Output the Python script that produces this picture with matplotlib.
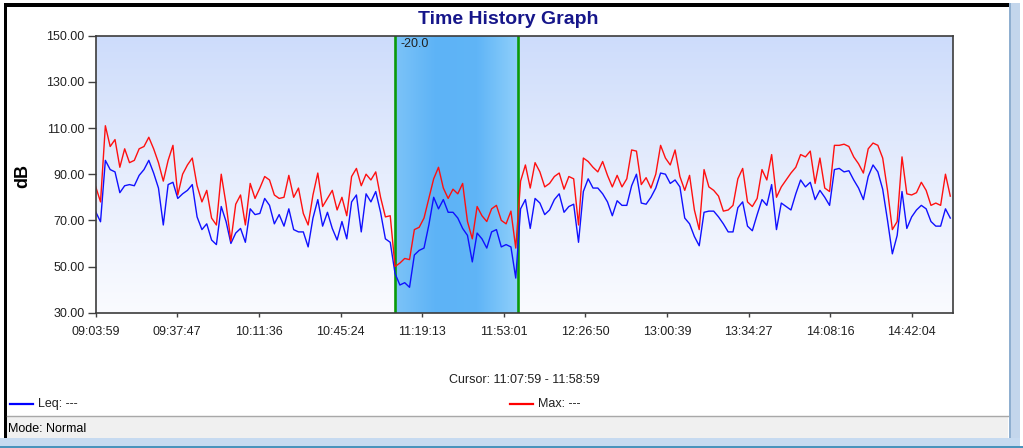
import numpy as np
import matplotlib
matplotlib.use("Agg")
import matplotlib.pyplot as plt
from matplotlib.patches import Rectangle
from matplotlib.lines import Line2D
from matplotlib.colors import LinearSegmentedColormap

plt.rcParams['font.family'] = ['Liberation Sans', 'DejaVu Sans']

# ---------------- data ----------------
START = "09:03:59"
END = "14:58:59"
SAMPLE_MIN = 2  # one reading every 2 minutes

max_db = [
    84.6, 78, 111, 102, 105, 93, 101, 95, 96, 101,
    102, 106, 101, 95, 87, 96, 102.5, 81, 90, 94,
    97, 85, 78, 83, 71, 68, 90, 77, 61, 77,
    81, 68, 86, 79.5, 84, 89, 87.5, 81, 79.5, 80,
    89.5, 80, 84, 73, 68, 81, 90.5, 76, 79.5, 83,
    74.5, 80, 72, 89, 92.5, 85, 90, 87.5, 91, 80,
    71.5, 72, 50, 51.5, 53.5, 53, 66, 67, 71, 79.5,
    88, 93, 84, 79.5, 83.5, 81.5, 86, 69.5, 62, 76,
    72, 69.5, 75, 76.5, 70, 68.5, 74, 58, 87, 94,
    84, 95, 91, 84.5, 86, 89, 90.5, 83.5, 89, 88,
    68, 97, 95.5, 93, 91, 95.5, 89.5, 84.5, 89.5, 84.5,
    88, 100.5, 100, 85.5, 88.5, 84, 90, 102.5, 97, 94,
    100.5, 89, 83, 89.5, 74.5, 66, 92, 84.5, 83, 80.5,
    74, 74.5, 76.5, 88, 92.5, 78, 76, 79.5, 92, 87.5,
    98.5, 80, 84.5, 87.5, 90.5, 93, 98.5, 97.5, 100, 86,
    97, 84, 82.5, 102.5, 102.5, 103, 102, 97.5, 94.5, 90.5,
    101, 103.5, 102.5, 97, 83, 66, 69.5, 97.5, 81.5, 81,
    82, 86.5, 83, 76.5, 77.5, 76.5, 90, 80.5,
]

leq_db = [
    73.7, 69.4, 96, 92, 91, 82, 85, 85.5, 85, 89.5,
    92, 96, 90.5, 84, 68, 85.5, 86.5, 79.5, 81.5, 83,
    85.5, 71.5, 66, 68.5, 61.5, 59.5, 76, 69.5, 60, 64.5,
    66.5, 60.5, 75, 72.5, 73, 79.5, 76.5, 68.5, 72.5, 67.5,
    75, 66, 65, 65, 58.5, 71, 79, 67.5, 73.5, 66.5,
    61.5, 69.5, 62, 78, 81, 65, 81.5, 78, 82.5, 73.5,
    62, 60.5, 47, 42, 43, 41, 55, 57, 58, 68,
    80, 75, 79, 73.5, 73.5, 71, 66.5, 63.5, 52, 64.5,
    62, 58, 65, 66, 58.5, 59.5, 58.5, 45, 75, 79,
    66.5, 79.5, 77.5, 72.5, 74.5, 79, 81.5, 73.5, 76, 77,
    60.5, 82.5, 88, 84, 84, 81.5, 78, 72, 78.5, 76.5,
    76.5, 85, 90, 77.5, 77, 80, 84, 90.5, 90, 86,
    87.5, 84.5, 71, 68.5, 63, 59, 73.5, 74, 74, 71.5,
    68.5, 65, 65, 75.5, 78, 67.5, 65.5, 72.5, 79, 76.5,
    85.5, 66, 77.5, 76, 74.5, 81.5, 87.5, 84.5, 86.5, 79,
    83, 80, 76.5, 92, 92.5, 91, 91.5, 87.5, 84, 79,
    89, 94, 91, 83.5, 70, 55.5, 63.5, 82.5, 66.5, 71.5,
    74.5, 76.5, 75, 69.5, 67.5, 67.5, 75, 71,
]

x_tick_labels = ["09:03:59", "09:37:47", "10:11:36", "10:45:24", "11:19:13",
                 "11:53:01", "12:26:50", "13:00:39", "13:34:27", "14:08:16",
                 "14:42:04"]
y_ticks = [30, 50, 70, 90, 110, 130, 150]

cursor_start = "11:07:59"
cursor_end = "11:58:59"
cursor_value = "-20.0"
legend_labels = ["Leq: ---", "Max: ---"]
title = "Time History Graph"
y_label = "dB"
mode_text = "Mode: Normal"


def secs(hms):
    h, m, s = map(int, hms.split(":"))
    return h * 3600 + m * 60 + s


t0 = secs(START)
t_end = secs(END) - t0
t = np.arange(len(leq_db)) * SAMPLE_MIN * 60.0
xt = [secs(s) - t0 for s in x_tick_labels]
c0 = secs(cursor_start) - t0
c1 = secs(cursor_end) - t0

# ---------------- figure ----------------
W, H = 1023, 448
fig = plt.figure(figsize=(W / 100, H / 100), dpi=100)
fig.patch.set_facecolor('white')


def px_rect(x0, y0, x1, y1, color, z=0):
    fig.patches.append(Rectangle((x0 / W, 1 - y1 / H), (x1 - x0) / W, (y1 - y0) / H,
                                 transform=fig.transFigure, facecolor=color,
                                 edgecolor='none', zorder=z))


def px_hline(x0, x1, y, color, lw=1.0):
    fig.lines.append(Line2D([x0 / W, x1 / W], [1 - y / H, 1 - y / H],
                            transform=fig.transFigure, color=color, lw=lw))


# window chrome
px_rect(4, 3, 1010, 7, 'black')
px_rect(4, 3, 7, 446, 'black')
px_rect(1010, 3, 1020, 448, '#C3D6EC')
px_rect(1009, 3, 1011, 448, '#8FAFD0')
px_rect(7, 416, 1008, 438, '#F0F0F0')
px_hline(7, 1008, 415.5, '#A8A8A8', 1.0)
px_rect(0, 438, 1020, 446, '#C6DAF0')
px_rect(0, 446, 1023, 448, '#4A93BC')
fig.text(8 / W, 1 - 429 / H, mode_text, fontsize=9, va='center', ha='left', color='black')

# axes
L, R, T, B = 95.7, 952.7, 35.7, 312.7
ax = fig.add_axes([L / W, 1 - B / H, (R - L) / W, (B - T) / H])
ymin, ymax = y_ticks[0], y_ticks[-1]

# plot background gradient
bg = LinearSegmentedColormap.from_list('bg', ['#CDDCFB', '#E6EDFD', '#FAFBFF'])
grad = np.linspace(0, 1, 256).reshape(-1, 1)
ax.imshow(grad, cmap=bg, extent=[0, t_end, ymin, ymax], origin='upper',
          aspect='auto', zorder=0, interpolation='bicubic')

# cursor band gradient
band = LinearSegmentedColormap.from_list('band', ['#7CC3F8', '#5DB3F6', '#60B5F7', '#90D0FB'])
hgrad = np.linspace(0, 1, 256).reshape(1, -1)
ax.imshow(hgrad, cmap=band, extent=[c0, c1, ymin, ymax], aspect='auto',
          zorder=1, interpolation='bicubic')
for c in (c0, c1):
    ax.axvline(c, color='#0A9A0A', lw=1.9, zorder=2)
ax.annotate(cursor_value, xy=(c0, ymax), xytext=(4, -1.5), textcoords='offset points',
            ha='left', va='top', fontsize=9, color='#202020', zorder=5)

# series
ax.plot(t, leq_db, color='#1010FF', lw=1.0, zorder=3)
ax.plot(t, max_db, color='#FF1010', lw=1.0, zorder=4)

ax.set_xlim(0, t_end)
ax.set_ylim(ymin, ymax)
ax.set_xticks(xt)
ax.set_xticklabels(x_tick_labels)
ax.set_yticks(y_ticks)
ax.set_yticklabels([f"{v:.2f}" for v in y_ticks])
ax.tick_params(axis='y', length=6, width=1, color='#404040', pad=2,
               labelsize=9, labelcolor='#202020')
ax.tick_params(axis='x', length=3, width=1, color='#404040', pad=6.5,
               labelsize=9, labelcolor='#202020')
for s in ax.spines.values():
    s.set_color('#3C3C3C')
    s.set_linewidth(1.2)
    s.set_zorder(6)

# titles and labels
fig.text(508 / W, 1 - 20 / H, title, fontsize=14, fontweight='bold',
         color='#16168A', ha='center', va='center')
fig.text(23 / W, 1 - 176 / H, y_label, fontsize=13, fontweight='bold',
         rotation=90, ha='center', va='center', color='black')
fig.text(((L + R) / 2) / W, 1 - 380 / H, f"Cursor: {cursor_start} - {cursor_end}",
         fontsize=9, ha='center', va='center', color='#202020')

# legend
for (x0, col, lab) in [(10, '#0000FF', legend_labels[0]), (510, '#FF0000', legend_labels[1])]:
    px_hline(x0, x0 + 23, 404, col, 1.6)
    fig.text((x0 + 28) / W, 1 - 404 / H, lab, fontsize=9, ha='left', va='center', color='#202020')

fig.savefig('out.png', dpi=100)
